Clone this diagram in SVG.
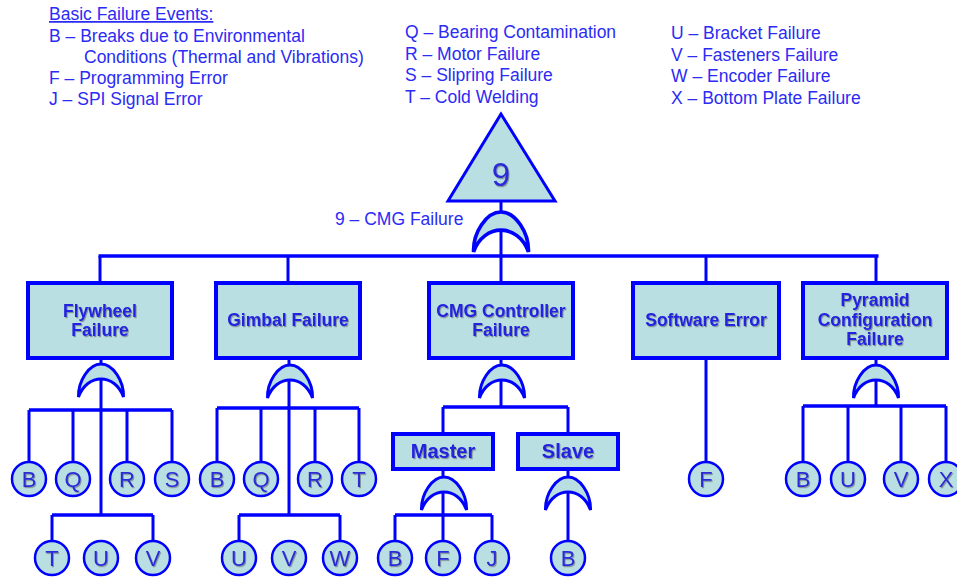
<svg xmlns="http://www.w3.org/2000/svg" xmlns:xlink="http://www.w3.org/1999/xlink" width="957" height="577" viewBox="0 0 957 577">
<defs>
<filter id="sh" x="-20%" y="-20%" width="150%" height="150%">
<feDropShadow dx="1" dy="1.2" stdDeviation="0.6" flood-color="#555" flood-opacity="0.55"/>
</filter>
<path id="orgate" d="M-22.5,33 C-23,17 -12,0 0,0 C12,0 23,17 22.5,33 C14,9 -14,9 -22.5,33 Z"/>
</defs>
<style>
.legend{font-family:"Liberation Sans",Arial,sans-serif;font-size:17.5px;fill:#2b2bf5}
.line{stroke:#0000ff;stroke-width:3;fill:none}
.bus{stroke:#0000ff;stroke-width:3.5;fill:none}
.box{fill:#b9dfe3;stroke:#0000ff;stroke-width:4}
.circ{fill:#b9dfe3;stroke:#0000ff;stroke-width:2.5}
.gate{fill:#b9dfe3;stroke:#0000ff;stroke-width:3}
.lbl{font-family:"Liberation Sans",Arial,sans-serif;font-size:17.5px;font-weight:bold;fill:#2222e0;text-anchor:middle;filter:url(#sh)}
.sub{font-family:"Liberation Sans",Arial,sans-serif;font-size:20px;font-weight:bold;fill:#2222e0;text-anchor:middle;filter:url(#sh)}
.ev{font-family:"Liberation Sans",Arial,sans-serif;font-size:22px;fill:#2a2ad8;text-anchor:middle;filter:url(#sh)}
</style>
<rect width="957" height="577" fill="#ffffff"/>

<g id="legend">
<text class="legend" x="49" y="20" text-decoration="underline">Basic Failure Events:</text>
<text class="legend" x="49" y="42">B – Breaks due to Environmental</text>
<text class="legend" x="84" y="63">Conditions (Thermal and Vibrations)</text>
<text class="legend" x="49" y="84">F – Programming Error</text>
<text class="legend" x="49" y="105">J – SPI Signal Error</text>
<text class="legend" x="405" y="38">Q – Bearing Contamination</text>
<text class="legend" x="405" y="59.5">R – Motor Failure</text>
<text class="legend" x="405" y="81">S – Slipring Failure</text>
<text class="legend" x="405" y="102.5">T – Cold Welding</text>
<text class="legend" x="671" y="39">U – Bracket Failure</text>
<text class="legend" x="671" y="60.5">V – Fasteners Failure</text>
<text class="legend" x="671" y="82">W – Encoder Failure</text>
<text class="legend" x="671" y="103.5">X – Bottom Plate Failure</text>
<text class="legend" x="335" y="225">9 – CMG Failure</text>
</g>

<g id="connectors">
<path class="line" d="M501,200 V256"/>
<path class="bus" d="M98.5,256 H878.5"/>
<path class="line" d="M100,256 V283 M288,256 V283 M501,256 V283 M706,256 V283 M876,256 V283"/>
<path class="line" d="M101,358 V515"/>
<path class="bus" d="M29,410 H172"/>
<path class="line" d="M29,410 V462 M73,410 V462 M127,410 V462 M172,410 V462"/>
<path class="bus" d="M52,515 H153"/>
<path class="line" d="M52,515 V541 M153,515 V541"/>
<path class="line" d="M289,358 V515"/>
<path class="bus" d="M217,408 H359"/>
<path class="line" d="M217,408 V462 M261,408 V462 M315,408 V462 M359,408 V462"/>
<path class="bus" d="M239,515 H340"/>
<path class="line" d="M239,515 V541 M340,515 V541"/>
<path class="line" d="M501,358 V407"/>
<path class="bus" d="M443,407 H568"/>
<path class="line" d="M443,407 V434 M568,407 V434"/>
<path class="line" d="M443,469 V541"/>
<path class="bus" d="M395,515 H492"/>
<path class="line" d="M395,515 V541 M492,515 V541"/>
<path class="line" d="M568,469 V541"/>
<path class="line" d="M706,358 V462"/>
<path class="line" d="M876,358 V406"/>
<path class="bus" d="M803,406 H946"/>
<path class="line" d="M803,406 V462 M848,406 V462 M901,406 V462 M946,406 V462"/>
</g>

<g id="gates">
<use href="#orgate" class="gate" transform="translate(501,212) scale(1.22,1.21)" vector-effect="non-scaling-stroke"/>
<use href="#orgate" class="gate" transform="translate(101,364)"/>
<use href="#orgate" class="gate" transform="translate(290,365)"/>
<use href="#orgate" class="gate" transform="translate(502,365)"/>
<use href="#orgate" class="gate" transform="translate(876,365)"/>
<use href="#orgate" class="gate" transform="translate(444,477)"/>
<use href="#orgate" class="gate" transform="translate(568,477)"/>
</g>

<g id="top-event">
<polygon points="501,114 448,201 555,201" fill="#b9dfe3" stroke="#0000ff" stroke-width="3"/>
<text x="501" y="186" font-family="'Liberation Sans',Arial,sans-serif" font-size="33" fill="#2a2ad8" text-anchor="middle" filter="url(#sh)">9</text>
</g>

<g id="flywheel">
<rect class="box" x="28" y="283" width="144" height="75"/>
<text class="lbl" x="100" y="317">Flywheel</text>
<text class="lbl" x="100" y="336">Failure</text>
</g>
<g id="gimbal">
<rect class="box" x="216" y="283" width="144" height="75"/>
<text class="lbl" x="288" y="326">Gimbal Failure</text>
</g>
<g id="cmg-controller">
<rect class="box" x="429" y="283" width="144" height="75"/>
<text class="lbl" x="501" y="317">CMG Controller</text>
<text class="lbl" x="501" y="336">Failure</text>
</g>
<g id="software">
<rect class="box" x="633" y="283" width="146" height="75"/>
<text class="lbl" x="706" y="326">Software Error</text>
</g>
<g id="pyramid">
<rect class="box" x="803" y="283" width="144" height="75"/>
<text class="lbl" x="875" y="306">Pyramid</text>
<text class="lbl" x="875" y="326">Configuration</text>
<text class="lbl" x="875" y="345">Failure</text>
</g>
<g id="master">
<rect class="box" x="393" y="434" width="100" height="35"/>
<text class="sub" x="443" y="458">Master</text>
</g>
<g id="slave">
<rect class="box" x="518" y="434" width="100" height="35"/>
<text class="sub" x="568" y="458">Slave</text>
</g>

<g id="events">
<g id="fw-B"><circle class="circ" cx="29" cy="479" r="17"/><text class="ev" x="29" y="487">B</text></g>
<g id="fw-Q"><circle class="circ" cx="73" cy="479" r="17"/><text class="ev" x="73" y="487">Q</text></g>
<g id="fw-R"><circle class="circ" cx="127" cy="479" r="17"/><text class="ev" x="127" y="487">R</text></g>
<g id="fw-S"><circle class="circ" cx="172" cy="479" r="17"/><text class="ev" x="172" y="487">S</text></g>
<g id="fw-T"><circle class="circ" cx="52" cy="558" r="17"/><text class="ev" x="52" y="566">T</text></g>
<g id="fw-U"><circle class="circ" cx="101" cy="558" r="17"/><text class="ev" x="101" y="566">U</text></g>
<g id="fw-V"><circle class="circ" cx="153" cy="558" r="17"/><text class="ev" x="153" y="566">V</text></g>
<g id="gb-B"><circle class="circ" cx="217" cy="479" r="17"/><text class="ev" x="217" y="487">B</text></g>
<g id="gb-Q"><circle class="circ" cx="261" cy="479" r="17"/><text class="ev" x="261" y="487">Q</text></g>
<g id="gb-R"><circle class="circ" cx="315" cy="479" r="17"/><text class="ev" x="315" y="487">R</text></g>
<g id="gb-T"><circle class="circ" cx="359" cy="479" r="17"/><text class="ev" x="359" y="487">T</text></g>
<g id="gb-U"><circle class="circ" cx="239" cy="558" r="17"/><text class="ev" x="239" y="566">U</text></g>
<g id="gb-V"><circle class="circ" cx="289" cy="558" r="17"/><text class="ev" x="289" y="566">V</text></g>
<g id="gb-W"><circle class="circ" cx="340" cy="558" r="17"/><text class="ev" x="340" y="566">W</text></g>
<g id="ms-B"><circle class="circ" cx="395" cy="558" r="17"/><text class="ev" x="395" y="566">B</text></g>
<g id="ms-F"><circle class="circ" cx="443" cy="558" r="17"/><text class="ev" x="443" y="566">F</text></g>
<g id="ms-J"><circle class="circ" cx="492" cy="558" r="17"/><text class="ev" x="492" y="566">J</text></g>
<g id="sl-B"><circle class="circ" cx="568" cy="558" r="17"/><text class="ev" x="568" y="566">B</text></g>
<g id="sw-F"><circle class="circ" cx="706" cy="479" r="17"/><text class="ev" x="706" y="487">F</text></g>
<g id="py-B"><circle class="circ" cx="803" cy="479" r="17"/><text class="ev" x="803" y="487">B</text></g>
<g id="py-U"><circle class="circ" cx="848" cy="479" r="17"/><text class="ev" x="848" y="487">U</text></g>
<g id="py-V"><circle class="circ" cx="901" cy="479" r="17"/><text class="ev" x="901" y="487">V</text></g>
<g id="py-X"><circle class="circ" cx="946" cy="479" r="17"/><text class="ev" x="946" y="487">X</text></g>
</g>
</svg>
